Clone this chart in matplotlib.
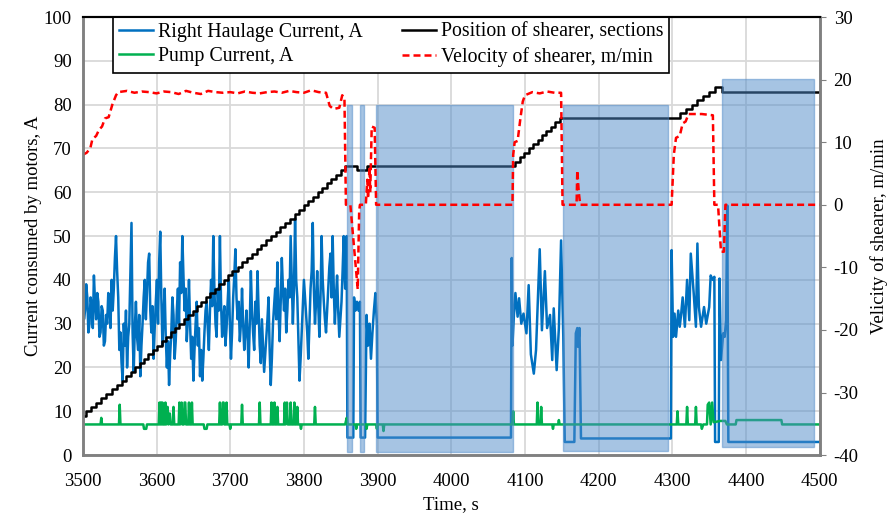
import matplotlib.pyplot as plt
import numpy as np

plt.rcParams['font.family'] = ['Liberation Serif', 'DejaVu Serif']
plt.rcParams['font.size'] = 13.5
plt.rcParams['axes.unicode_minus'] = False

# Right haulage current, A  (time s, current)
haulage = [
    (3500, 38), (3501.5, 31), (3503, 33), (3504.5, 39), (3506, 36), (3507.5, 28), (3509, 30),
    (3510.5, 36), (3512, 34), (3513.5, 29), (3515, 41), (3516.5, 35), (3518, 31), (3519.5, 37),
    (3521, 35), (3522.5, 27), (3524, 28), (3525.5, 34), (3527, 33), (3528.5, 25), (3530, 26),
    (3531.5, 32), (3533, 30), (3534.5, 37), (3536, 34), (3537.5, 29), (3539, 40), (3540.5, 33),
    (3542, 38), (3543.5, 45), (3545, 50), (3546.5, 42), (3548, 36), (3549.5, 24), (3551, 28),
    (3552.5, 21), (3554, 17), (3555.5, 30), (3557, 25), (3558.5, 33), (3560, 20), (3561.5, 27),
    (3563, 30), (3564.5, 42), (3566, 53), (3567.5, 28), (3569, 19), (3570.5, 29), (3572, 35),
    (3573.5, 27), (3575, 24), (3576.5, 32), (3578, 18), (3579.5, 25), (3581, 30), (3582.5, 36),
    (3584, 40), (3585.5, 31), (3587, 37), (3588.5, 44), (3590, 46), (3591.5, 33), (3593, 28),
    (3594.5, 34), (3596, 22), (3597.5, 29), (3599, 35), (3600.5, 40), (3602, 30), (3603.5, 44),
    (3605, 51), (3606.5, 36), (3608, 25), (3609.5, 32), (3611, 38), (3612.5, 27), (3614, 20),
    (3615.5, 26), (3617, 16), (3618.5, 23), (3620, 28), (3621.5, 36), (3623, 32), (3624.5, 22),
    (3626, 26), (3627.5, 33), (3629, 38), (3630.5, 30), (3632, 44), (3633.5, 37), (3635, 50),
    (3636.5, 41), (3638, 33), (3639.5, 38), (3641, 26), (3642.5, 31), (3644, 40), (3645.5, 30),
    (3647, 22), (3648.5, 27), (3650, 17), (3651.5, 24), (3653, 30), (3654.5, 35), (3656, 25),
    (3657.5, 29), (3659, 18), (3660.5, 24), (3662, 17), (3663.5, 22), (3665, 28), (3666.5, 33),
    (3668, 35), (3669.5, 29), (3671, 24), (3672.5, 33), (3674, 40), (3675.5, 34), (3677, 50),
    (3678.5, 38), (3680, 30), (3681.5, 27), (3683, 38), (3684.5, 33), (3686, 50), (3687.5, 35),
    (3689, 27), (3690.5, 31), (3692, 34), (3693.5, 25), (3695, 29), (3696.5, 35), (3698, 40),
    (3699.5, 30), (3701, 22), (3702.5, 28), (3704, 36), (3705.5, 41), (3707, 47), (3708.5, 36),
    (3710, 31), (3711.5, 35), (3713, 26), (3714.5, 30), (3716, 38), (3717.5, 30), (3719, 24),
    (3720.5, 28), (3722, 33), (3723.5, 27), (3725, 20), (3726.5, 30), (3728, 42), (3729.5, 33),
    (3731, 28), (3732.5, 24), (3734, 35), (3735.5, 30), (3737, 42), (3738.5, 33), (3740, 25),
    (3741.5, 21), (3743, 31), (3744.5, 25), (3746, 19), (3747.5, 23), (3749, 27), (3750.5, 31),
    (3752, 36), (3753.5, 24), (3755, 16), (3756.5, 22), (3758, 30), (3759.5, 34), (3761, 38),
    (3762.5, 31), (3764, 44), (3765.5, 33), (3767, 26), (3768.5, 35), (3770, 45), (3771.5, 38),
    (3773, 33), (3774.5, 38), (3776, 28), (3777.5, 33), (3779, 40), (3780.5, 36), (3782, 50),
    (3783.5, 40), (3785, 30), (3786.5, 38), (3788, 54), (3789.5, 40), (3791, 36), (3792.5, 26),
    (3794, 17), (3795.5, 22), (3797, 28), (3798.5, 34), (3800, 40), (3801.5, 36), (3803, 32),
    (3804.5, 28), (3806, 22), (3807.5, 30), (3809, 38), (3810.5, 42), (3812, 53), (3813.5, 38),
    (3815, 30), (3816.5, 35), (3818, 42), (3819.5, 34), (3821, 27), (3822.5, 36), (3824, 50),
    (3825.5, 40), (3827, 35), (3828.5, 31), (3830, 28), (3831.5, 33), (3833, 38), (3834.5, 43),
    (3836, 46), (3837.5, 36), (3839, 50), (3840.5, 38), (3842, 30), (3843.5, 36), (3845, 41),
    (3846.5, 33), (3848, 27), (3849.5, 31), (3851, 35), (3852.5, 42), (3854, 50), (3855, 42),
    (3856, 38), (3858, 50), (3859, 4), (3867, 4), (3868, 36), (3870, 33), (3872, 35), (3874, 33),
    (3876, 35), (3877, 4), (3883, 4), (3885, 32), (3887, 25), (3889, 30), (3891, 22), (3893, 28),
    (3895, 33), (3897, 37), (3899, 30), (3900, 4), (4081, 4), (4082, 45), (4083, 25), (4085, 32),
    (4087, 37), (4090, 31.6), (4092, 35.8), (4095, 30), (4098, 32.3), (4102, 27.8), (4105, 38.8),
    (4108, 23), (4112, 18.6), (4115, 24), (4120, 47), (4123, 28.5), (4127, 42), (4130, 29),
    (4134, 32), (4137, 21.7), (4139, 33.5), (4143, 19.4), (4146, 29), (4149, 49), (4152, 27),
    (4154, 3), (4167, 3), (4169, 27.8), (4171, 29), (4172, 24.7), (4174, 29), (4176, 3.8),
    (4298, 3.8), (4299, 46.8), (4301, 27), (4303, 32.3), (4305, 27), (4308, 33), (4310, 29.3),
    (4312, 32.3), (4314, 36), (4317, 29.3), (4320, 40), (4323, 30.8), (4325, 46), (4327, 41.4),
    (4329, 36.9), (4332, 29.3), (4334, 48.3), (4336, 33.8), (4339, 29.3), (4343, 33.8),
    (4346, 30), (4350, 33.8), (4352, 41), (4355, 40), (4357, 40.7), (4358, 3), (4363, 3),
    (4364, 40.3), (4366, 21.7), (4369, 27.8), (4371, 27), (4373, 30.8), (4374.5, 57), (4376, 3),
    (4500, 3),
]

# Pump current, A
pump = [
    (3500, 7), (3524, 7), (3525, 8.5), (3526, 7), (3549, 7), (3550, 11.5), (3551, 7), (3582, 7),
    (3583, 6), (3586, 6), (3587, 7), (3603, 7), (3604, 12), (3605, 7), (3606, 12), (3607, 7),
    (3608, 12), (3609, 7), (3611, 7), (3612, 12), (3613, 7), (3615, 11), (3616, 7), (3618, 9.5),
    (3619, 7), (3622, 7), (3623, 11), (3624, 7), (3630, 7), (3631, 12), (3632, 7), (3634, 12),
    (3635, 7), (3637, 7), (3638, 12), (3639, 12), (3640, 7), (3643, 7), (3644, 12), (3645, 7),
    (3647, 7), (3648, 12), (3649, 7), (3664, 7), (3665, 6), (3668, 6), (3669, 7), (3685, 7),
    (3686, 12), (3687, 7), (3689, 7), (3690, 12), (3691, 12), (3692, 7), (3694, 7), (3695, 12),
    (3696, 7), (3699, 7), (3700, 6), (3701, 7), (3715, 7), (3716, 11.5), (3717, 7), (3739, 7),
    (3740, 12), (3741, 7), (3755, 7), (3756, 12), (3757, 7), (3759, 7), (3760, 12), (3761, 7),
    (3763, 7), (3764, 11), (3765, 7), (3773, 7), (3774, 12), (3775, 7), (3777, 12), (3778, 7),
    (3781, 7), (3782, 12), (3783, 7), (3786, 7), (3787, 12), (3788, 7), (3790, 7), (3791, 11),
    (3792, 7), (3795, 7), (3796, 6), (3797, 7), (3814, 7), (3815, 11), (3816, 7), (3856, 7),
    (3858, 8.5), (3859, 7), (3870, 7), (3871, 6), (3872, 7), (3884, 7), (3885, 6), (3886, 7),
    (3898, 7), (3899, 6), (3900, 7), (3907, 7), (3908, 5.5), (3909, 7), (4083, 7), (4084, 10),
    (4085, 7), (4116, 7), (4117, 12), (4118, 7), (4121, 7), (4122, 11), (4123, 7), (4137, 7),
    (4138, 6), (4139, 7), (4145, 7), (4146, 8), (4147, 7), (4306, 7), (4307, 10), (4308, 7),
    (4319, 7), (4320, 11), (4321, 7), (4331, 7), (4332, 11), (4333, 7), (4339, 7), (4340, 6),
    (4342, 7), (4347, 7), (4348, 11.5), (4350, 12), (4352, 7), (4354, 12), (4356, 7.5),
    (4365, 7.8), (4372, 7.8), (4374, 7), (4386, 7), (4387, 8), (4448, 8), (4449, 7), (4500, 7),
]

# Position of shearer, sections (value holds from the given time on)
position = [
    (3500, 9), (3504, 10), (3511, 11), (3518, 12), (3525, 13), (3532, 14), (3539, 15), (3546, 16),
    (3553, 17), (3559, 18), (3565, 19), (3571, 20), (3577, 21), (3583, 22), (3589, 23), (3595, 24),
    (3601, 25), (3607, 26), (3613, 27), (3619, 28), (3625, 29), (3631, 30), (3637, 31), (3643, 32),
    (3649, 33), (3655, 34), (3661, 35), (3667, 36), (3673, 37), (3679, 38), (3685, 39), (3691, 40),
    (3697, 41), (3703, 42), (3710, 43), (3716, 44), (3723, 45), (3729, 46), (3736, 47), (3742, 48),
    (3749, 49), (3755, 50), (3762, 51), (3768, 52), (3775, 53), (3781, 54), (3788, 55), (3794, 56),
    (3800, 57), (3806, 58), (3813, 59), (3819, 60), (3825, 61), (3831, 62), (3837, 63), (3843, 64),
    (3850, 65), (3856, 66), (3872, 65), (3886, 66), (4087, 67), (4093, 68), (4099, 69), (4105, 70),
    (4111, 71), (4117, 72), (4123, 73), (4129, 74), (4135, 75), (4141, 76), (4148, 77), (4310, 78),
    (4318, 79), (4326, 80), (4334, 81), (4342, 82), (4350, 83), (4358, 84), (4367, 83), (4500, 83),
]

# Velocity of shearer, m/min (right axis)
velocity = [
    (3500, 8), (3505, 8.3), (3510, 9), (3513, 10.5), (3518, 11), (3522, 12), (3526, 12.5),
    (3530, 13.8), (3535, 14), (3540, 16), (3545, 17.5), (3548, 18), (3560, 18.2), (3570, 17.9),
    (3580, 18.1), (3590, 18.0), (3600, 17.8), (3610, 18.1), (3620, 18.0), (3630, 17.7),
    (3640, 18.2), (3650, 17.9), (3660, 17.7), (3670, 18.2), (3680, 18.0), (3690, 17.9),
    (3700, 18.0), (3710, 17.8), (3720, 18.1), (3730, 17.9), (3740, 17.8), (3750, 18.0),
    (3760, 18.1), (3770, 17.9), (3780, 18.2), (3790, 18.0), (3800, 17.9), (3810, 18.3),
    (3820, 18.0), (3830, 17.9), (3835, 15.8), (3840, 15.3), (3848, 15.5), (3852, 17.5),
    (3855, 17.0), (3857, 0), (3863, 0), (3873, -13.5), (3875, -1), (3876, 0), (3884, 0),
    (3886, 4), (3887, 1), (3889, 6), (3890, 2), (3892, 12.5), (3896, 12.3), (3898, 0), (4083, 0),
    (4084, 8), (4086, 10), (4090, 10.2), (4094, 14), (4097, 16.5), (4100, 17.5), (4110, 18),
    (4120, 17.8), (4130, 18.1), (4140, 17.9), (4149, 17.9), (4151, 0), (4170, 0), (4171, 5.5),
    (4173, 2), (4175, 0), (4299, 0), (4302, 8), (4305, 10.7), (4310, 11), (4314, 13),
    (4318, 13.3), (4322, 14.5), (4340, 14.5), (4355, 14.3), (4357, 0), (4362, 0), (4366, -7.5),
    (4370, -7.5), (4372, 0), (4500, 0),
]

# shaded intervals: start s, end s, bottom A, top A
shaded = [
    (3858, 3865, 0.7, 80),
    (3876, 3882, 0.7, 80),
    (3898, 4084, 0.7, 80),
    (4151, 4294, 1.0, 80),
    (4367, 4492, 1.9, 85.8),
]

fig = plt.figure(figsize=(8.91, 5.16), dpi=100)
ax = fig.add_axes([0.093, 0.118, 0.827, 0.849])
ax2 = ax.twinx()

t, a = zip(*haulage)
l1, = ax.plot(t, a, color='#0070C0', lw=1.8, label='Right Haulage Current, A')
t, a = zip(*pump)
l2, = ax.plot(t, a, color='#00B050', lw=1.8, label='Pump Current, A')
t, p = zip(*position)
l3, = ax.plot(t, p, color='black', lw=1.8, drawstyle='steps-post',
              label='Position of shearer, sections')
t, v = zip(*velocity)
l4, = ax2.plot(t, v, color='#FF0000', lw=1.8, ls=(0, (2.8, 1.6)),
               label='Velocity of shearer, m/min')

for t0, t1, b, top in shaded:
    ax2.axvspan(t0, t1, ymin=b / 100, ymax=top / 100, facecolor='#4F8BC9',
                edgecolor='#4F8BC9', alpha=0.5, lw=1)

ax.set_xlim(3500, 4500)
ax.set_ylim(0, 100)
ax2.set_ylim(-40, 30)
ax.set_xticks(np.arange(3500, 4501, 100))
ax.set_yticks(np.arange(0, 101, 10))
ax2.set_yticks(np.arange(-40, 31, 10))
ax.grid(True, color='#d9d9d9', lw=1.3)
ax.set_axisbelow(True)

ax.set_xlabel('Time, s', labelpad=4)
ax.set_ylabel('Current consumed by motors, A', labelpad=1)
ax2.set_ylabel('Velicity of shearer, m/min', labelpad=8)

for s in ['left', 'right', 'bottom']:
    for a_ in (ax, ax2):
        a_.spines[s].set_color('#808080')
        a_.spines[s].set_linewidth(1.8)
ax.spines['top'].set_linewidth(1.5)
ax2.spines['top'].set_linewidth(1.5)
ax.tick_params(axis='x', length=0, pad=13)
ax.tick_params(axis='y', length=0, pad=8)
ax2.tick_params(axis='y', length=4, color='#808080', pad=6)

leg = ax.legend(handles=[l1, l2, l3, l4], ncol=2, loc='upper left',
                bbox_to_anchor=(0.041, 1.0), borderaxespad=0, fancybox=False,
                edgecolor='black', framealpha=1, handlelength=1.7, handletextpad=0.25,
                columnspacing=2.0, borderpad=0.3, labelspacing=0.25, fontsize=14.3)
leg.get_frame().set_linewidth(1.2)

fig.savefig('out.png', dpi=100)
